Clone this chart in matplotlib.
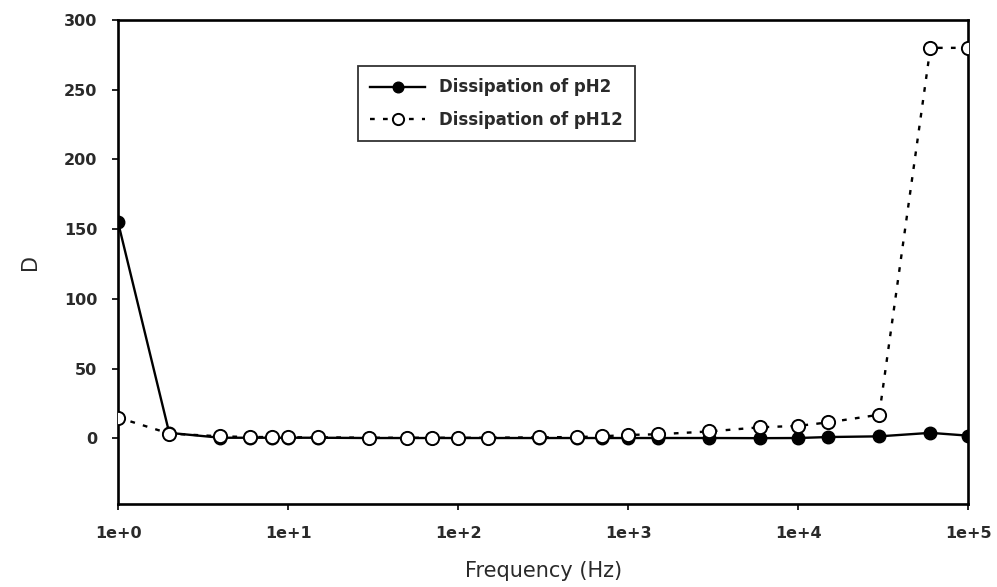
import numpy as np
import matplotlib
matplotlib.use("Agg")
import matplotlib.pyplot as plt
from matplotlib.ticker import FixedLocator, NullLocator

# frequency (Hz) and dissipation readings
freq = [1, 2, 4, 6, 8, 10, 15, 30, 50, 70, 100, 150, 300, 500, 700,
        1000, 1500, 3000, 6000, 10000, 15000, 30000, 60000, 100000]
d_ph2 = [155, 4, 0.5, 0.5, 0.5, 0.5, 0.5, 0.3, 0.3, 0.3, 0.3, 0.3, 0.3, 0.3, 0.3,
         0.3, 0.3, 0.3, 0.2, 0.3, 1, 1.5, 4, 2]
d_ph12 = [15, 3.5, 1.5, 1, 1, 0.8, 0.8, 0.5, 0.5, 0.5, 0.5, 0.5, 0.8, 1, 1.5,
          2.5, 3, 5, 8, 9, 11.5, 17, 280, 280]
xtick_vals = [1, 10, 100, 1000, 10000, 100000]
xtick_labels = ["1e+0", "1e+1", "1e+2", "1e+3", "1e+4", "1e+5"]
ytick_vals = [0, 50, 100, 150, 200, 250, 300]

plt.rcParams['font.family'] = ['DejaVu Sans']

fig = plt.figure(figsize=(9.97, 5.87), dpi=100)
ax = fig.add_axes([0.1184, 0.1414, 0.8526, 0.8246])

ax.plot(freq, d_ph2, '-', color='black', lw=1.7, marker='o', ms=9,
        mfc='black', mec='black', label='Dissipation of pH2', zorder=3)
ax.plot(freq, d_ph12, color='black', lw=1.7, ls=(0, (2, 3.5)), marker='o', ms=9.5,
        mfc='white', mec='black', mew=1.4, label='Dissipation of pH12', zorder=4)

ax.set_xscale('log')
ax.set_xlim(1, 100000)
ax.set_ylim(-47, 300)
ax.xaxis.set_major_locator(FixedLocator(xtick_vals))
ax.xaxis.set_minor_locator(NullLocator())
ax.set_xticklabels(xtick_labels)
ax.set_yticks(ytick_vals)

for s in ax.spines.values():
    s.set_linewidth(1.9)
ax.tick_params(direction='out', length=4, width=1.2, labelsize=11.5)
ax.tick_params(axis='x', pad=12)
ax.tick_params(axis='y', pad=11)
for t in ax.get_xticklabels() + ax.get_yticklabels():
    t.set_fontweight('bold')
    t.set_color('#2a2a2a')

ax.set_xlabel("Frequency (Hz)", fontsize=15, labelpad=14, color='#2a2a2a')
ax.set_ylabel("D", fontsize=15, labelpad=17, color='#2a2a2a')

leg = ax.legend(loc='upper left', bbox_to_anchor=(0.282, 0.905), fontsize=12,
                frameon=True, fancybox=False, edgecolor='black', handlelength=3.3,
                borderpad=0.75, labelspacing=0.85, handletextpad=0.8, borderaxespad=0,
                markerscale=0.85)
leg.get_frame().set_linewidth(1.3)
for t in leg.get_texts():
    t.set_fontweight('bold')
    t.set_color('#2a2a2a')

fig.savefig("out.png", dpi=100)
